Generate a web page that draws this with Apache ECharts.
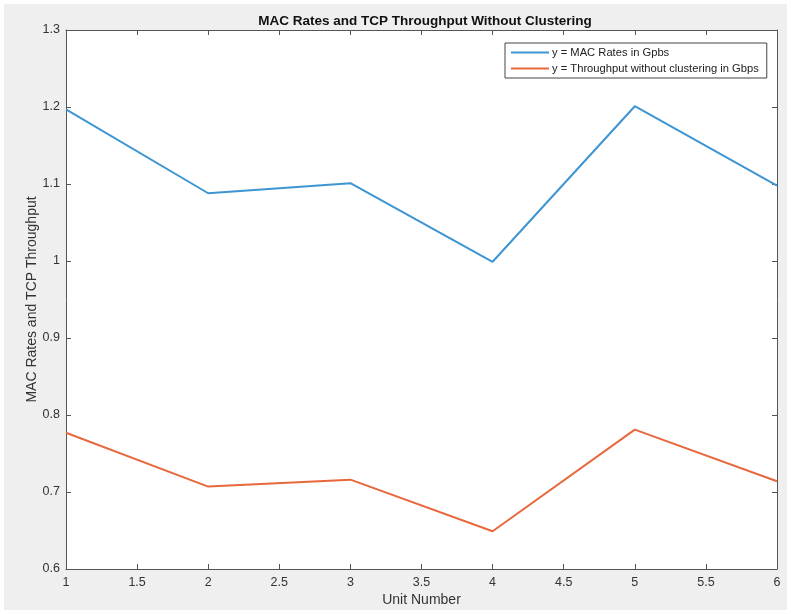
<!DOCTYPE html>
<html>
<head>
<meta charset="utf-8">
<script src="https://cdn.jsdelivr.net/npm/echarts@6/dist/echarts.min.js"></script>
<style>html,body{margin:0;padding:0;background:#fff}#c{width:791px;height:614px}</style>
</head>
<body>
<div id="c"></div>
<script>
const units = [1, 2, 3, 4, 5, 6];
const macRates = [1.197, 1.088, 1.101, 0.999, 1.201, 1.098];
const throughput = [0.777, 0.707, 0.716, 0.649, 0.781, 0.714];
const seriesNames = ['y = MAC Rates in Gpbs', 'y = Throughput without clustering in Gbps'];

const font = 'Liberation Sans, Arial, Helvetica, sans-serif';
const axisColor = '#555';
const textColor = '#333';

const chart = echarts.init(document.getElementById('c'));
const ticksCommon = {
  axisLine: {show: true, lineStyle: {color: axisColor, width: 1}},
  axisTick: {show: true, inside: true, length: 5, lineStyle: {color: axisColor}},
  splitLine: {show: false}
};
chart.setOption({
  backgroundColor: '#fff',
  animation: false,
  graphic: [{type: 'rect', z: -10, shape: {x: 4, y: 4, width: 783, height: 606}, style: {fill: '#efefef'}}],
  title: {
    text: 'MAC Rates and TCP Throughput Without Clustering',
    left: 420, top: 9, textAlign: 'center',
    textStyle: {fontFamily: font, fontSize: 13.5, fontWeight: 'bold', color: '#111'}
  },
  legend: {
    left: 505, top: 43, width: 250,
    orient: 'vertical',
    backgroundColor: '#fff',
    borderColor: '#444', borderWidth: 1, borderRadius: 0,
    padding: [4, 8, 4, 6],
    itemWidth: 38, itemHeight: 2, itemGap: 5,
    icon: 'rect',
    textStyle: {fontFamily: font, fontSize: 11.2, color: '#222', padding: [0, 0, 0, -2]},
    data: seriesNames
  },
  grid: {left: 66, right: 14, top: 30, bottom: 45, show: true, backgroundColor: '#fff', borderWidth: 0},
  xAxis: [{
    type: 'value', min: 1, max: 6, interval: 0.5,
    name: 'Unit Number', nameLocation: 'middle', nameGap: 24, nameMoveOverlap: false,
    nameTextStyle: {fontFamily: font, fontSize: 14, color: textColor},
    axisLabel: {fontFamily: font, fontSize: 12.5, color: textColor, margin: 7},
    ...ticksCommon
  }, {
    type: 'value', min: 1, max: 6, interval: 0.5, position: 'top',
    axisLabel: {show: false}, ...ticksCommon
  }],
  yAxis: [{
    type: 'value', min: 0.6, max: 1.3, interval: 0.1,
    name: 'MAC Rates and TCP Throughput', nameLocation: 'middle', nameGap: 27, nameMoveOverlap: false,
    nameTextStyle: {fontFamily: font, fontSize: 14, color: textColor},
    axisLabel: {fontFamily: font, fontSize: 12.5, color: textColor, margin: 6,
      formatter: v => String(Math.round(v * 10) / 10)},
    ...ticksCommon
  }, {
    type: 'value', min: 0.6, max: 1.3, interval: 0.1, position: 'right',
    axisLabel: {show: false}, ...ticksCommon
  }],
  series: [{
    name: seriesNames[0], type: 'line', showSymbol: false,
    data: units.map((u, i) => [u, macRates[i]]),
    lineStyle: {color: '#3d95d3', width: 2}, itemStyle: {color: '#3d95d3'}
  }, {
    name: seriesNames[1], type: 'line', showSymbol: false,
    data: units.map((u, i) => [u, throughput[i]]),
    lineStyle: {color: '#e8683d', width: 2}, itemStyle: {color: '#e8683d'}
  }]
});
</script>
</body>
</html>
